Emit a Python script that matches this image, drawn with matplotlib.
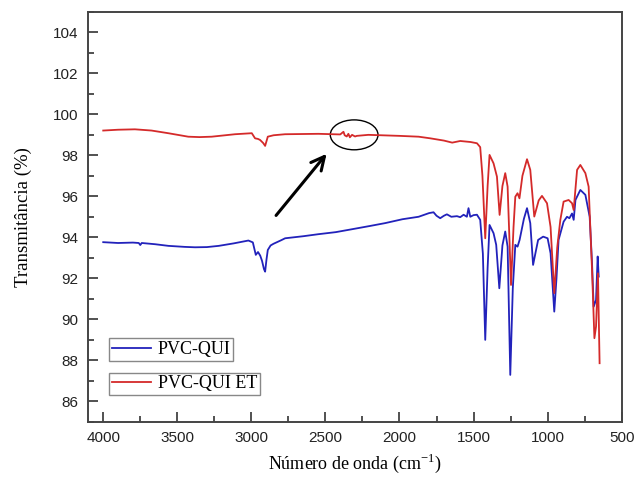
import matplotlib
matplotlib.use("Agg")
import matplotlib.pyplot as plt
from matplotlib.patches import Ellipse
from matplotlib.ticker import MultipleLocator

# ---- data ----
qui_x = [4000, 3900, 3800, 3760, 3750, 3740, 3650, 3560, 3450, 3380, 3300, 3220, 3120, 3020,
         2990, 2970, 2955, 2940, 2928, 2915, 2907, 2898, 2889, 2870, 2851, 2800, 2772, 2650,
         2547, 2430, 2322, 2200, 2097, 1980, 1871, 1800, 1770, 1750, 1725, 1700, 1680, 1650,
         1612, 1590, 1567, 1545, 1534, 1522, 1500, 1477, 1455, 1437, 1421, 1405, 1392, 1365,
         1347, 1326, 1305, 1286, 1270, 1252, 1235, 1218, 1203, 1189, 1160, 1139, 1117, 1098,
         1080, 1064, 1030, 1000, 980, 955, 940, 926, 892, 869, 853, 835, 824, 812, 779, 745,
         716, 700, 689, 673, 662, 655]
qui_y = [93.76, 93.72, 93.74, 93.72, 93.62, 93.72, 93.66, 93.58, 93.53, 93.51, 93.52, 93.58, 93.70, 93.84,
         93.75, 93.14, 93.28, 93.10, 92.85, 92.45, 92.32, 92.90, 93.38, 93.60, 93.68, 93.85, 93.95, 94.05,
         94.15, 94.25, 94.39, 94.55, 94.69, 94.88, 95.00, 95.18, 95.22, 95.05, 94.93, 95.05, 95.12, 95.00,
         95.03, 94.98, 95.10, 95.00, 95.42, 95.00, 95.08, 95.10, 94.85, 93.20, 88.99, 92.50, 94.60, 94.20,
         93.63, 91.51, 93.60, 94.28, 93.54, 87.28, 91.50, 93.63, 93.54, 93.87, 94.90, 95.42, 94.69, 92.65,
         93.30, 93.87, 94.03, 93.95, 93.22, 90.37, 92.00, 93.87, 94.76, 95.00, 94.93, 95.16, 94.85, 95.82,
         96.31, 96.07, 95.00, 92.73, 90.61, 90.94, 93.06, 92.08]

et_x = [4000, 3900, 3786, 3674, 3561, 3426, 3350, 3268, 3110, 2997, 2975, 2955, 2941, 2920, 2907,
        2889, 2850, 2772, 2547, 2400, 2378, 2370, 2356, 2345, 2335, 2320, 2300, 2288, 2210, 2000,
        1871, 1792, 1700, 1644, 1590, 1520, 1477, 1455, 1440, 1421, 1405, 1392, 1365, 1342, 1324,
        1305, 1286, 1270, 1247, 1230, 1218, 1203, 1190, 1170, 1139, 1117, 1090, 1060, 1038, 1004,
        980, 955, 935, 914, 892, 858, 835, 824, 801, 779, 745, 723, 700, 684, 673, 660, 649]
et_y = [99.21, 99.25, 99.27, 99.21, 99.08, 98.91, 98.89, 98.91, 99.03, 99.08, 98.83, 98.80, 98.75, 98.60, 98.46,
        98.91, 98.98, 99.03, 99.05, 99.02, 99.15, 98.98, 98.92, 99.05, 98.88, 99.00, 98.92, 98.95, 99.00, 98.95,
        98.91, 98.83, 98.72, 98.62, 98.70, 98.65, 98.59, 98.40, 97.00, 93.95, 96.50, 98.02, 97.61, 96.96, 95.09,
        96.50, 97.13, 96.47, 91.67, 94.50, 95.98, 96.15, 95.90, 97.00, 97.81, 97.29, 95.01, 95.80, 96.02, 95.66,
        94.50, 91.27, 93.50, 94.85, 95.74, 95.82, 95.66, 95.33, 97.29, 97.53, 97.13, 96.47, 92.40, 89.07, 89.64,
        92.24, 87.85]

labels = ["PVC-QUI", "PVC-QUI ET"]
colors = ["#2222bb", "#d42a2a"]

xticks = [4000, 3500, 3000, 2500, 2000, 1500, 1000, 500]
yticks = [86, 88, 90, 92, 94, 96, 98, 100, 102, 104]

# ---- figure ----
fig = plt.figure(figsize=(6.35, 4.78), dpi=100)
ax = fig.add_axes([0.139, 0.118, 0.840, 0.857])

l1, = ax.plot(qui_x, qui_y, color=colors[0], lw=1.3)
l2, = ax.plot(et_x, et_y, color=colors[1], lw=1.3)

ax.set_xlim(4101, 500)
ax.set_ylim(85, 105)
ax.set_xticks(xticks)
ax.set_yticks(yticks)
ax.xaxis.set_minor_locator(MultipleLocator(250))
ax.yaxis.set_minor_locator(MultipleLocator(1))
ax.tick_params(which="both", direction="in", top=False, right=False, colors="#333333")
ax.tick_params(which="major", length=7, width=1.2, pad=7)
ax.tick_params(which="minor", length=4, width=1.2)
for lab in ax.get_xticklabels() + ax.get_yticklabels():
    lab.set_fontfamily("Liberation Sans")
    lab.set_fontsize(11)
    lab.set_color("#222222")
for sp in ax.spines.values():
    sp.set_color("#444444")
    sp.set_linewidth(1.4)

serif = "Liberation Serif"
ax.set_xlabel("Número de onda (cm$^{\\mathregular{-1}}$)", family=serif, fontsize=13, labelpad=5)
ax.set_ylabel("Transmitância (%)", family=serif, fontsize=13.5, labelpad=15)

# annotation: arrow and ellipse
ax.annotate("", xy=(2480, 98.18), xytext=(2845, 94.96),
            arrowprops=dict(arrowstyle="->", lw=2.2, color="black", mutation_scale=24))
ax.add_patch(Ellipse((2306, 99.0), width=322, height=1.46, fill=False, ec="black", lw=1.0))

# two separate legend boxes
legkw = dict(loc="upper left", borderaxespad=0, fancybox=False, framealpha=1,
             edgecolor="#888888", borderpad=0.15, handlelength=2.2, handletextpad=0.35,
             prop={"family": serif, "size": 13})
leg1 = ax.legend([l1], [labels[0]], bbox_to_anchor=(0.039, 0.2036), **legkw)
leg1.get_frame().set_linewidth(1.0)
ax.add_artist(leg1)
leg2 = ax.legend([l2], [labels[1]], bbox_to_anchor=(0.039, 0.1196), **legkw)
leg2.get_frame().set_linewidth(1.0)

fig.savefig("out.png", dpi=100)
